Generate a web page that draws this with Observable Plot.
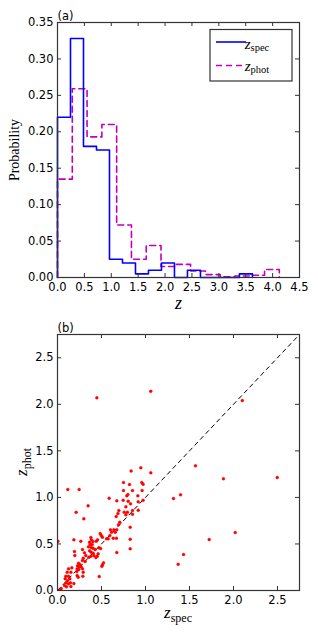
<!DOCTYPE html>
<html><head><meta charset="utf-8">
<script src="https://cdn.jsdelivr.net/npm/d3@7"></script>
<script src="https://cdn.jsdelivr.net/npm/@observablehq/plot@0.6"></script>
<style>
body{margin:0;background:#fff;}
#chart{width:318px;height:636px;}
#chart svg{display:block;}
</style></head>
<body><div id="chart"></div>
<script>
// ---- Panel (a): histograms ----
const specEdges = [0, 0.2417, 0.4833, 0.725, 0.9667, 1.2083, 1.45, 1.6917, 1.9333, 2.175, 2.4167, 2.6583, 2.9, 3.1417, 3.3833, 3.625];
const specProb  = [0.22, 0.328, 0.18, 0.175, 0.025, 0.02, 0.005, 0.01, 0.02, 0, 0.01, 0, 0, 0, 0.005];
const photEdges = [0, 0.275, 0.55, 0.825, 1.1, 1.375, 1.65, 1.925, 2.2, 2.475, 2.75, 3.025, 3.3, 3.575, 3.85, 4.125];
const photProb  = [0.135, 0.259, 0.193, 0.21, 0.072, 0.025, 0.044, 0.015, 0.018, 0.009, 0.004, 0.001, 0.002, 0.003, 0.011];
const histXTicks = [0, 0.5, 1, 1.5, 2, 2.5, 3, 3.5, 4, 4.5];
const histYTicks = [0, 0.05, 0.1, 0.15, 0.2, 0.25, 0.3, 0.35];

// ---- Panel (b): scatter ----
const zSpec = [0.447,1.06,2.10,0.837,0.947,1.06,1.568,1.886,2.497,1.318,1.398,1.432,1.371,1.724,2.019,
 0.117,0.246,0.348,0.587,0.674,0.75,0.818,0.75,0.852,0.8,0.788,0.958,0.973,0.962,0.913,0.746,0.803,0.83,0.777,0.917,0.973,0.697,0.852,0.917,
 0.212,0.299,0.687,0.667,0.758,0.795,0.777,0.852,0.708,0.693,0.602,0.614,0.595,0.674,0.656,0.64,0.826,0.826,0.826,0.576,0.557,0.633,0.67,0.674,0.485,0.497,0.511,0.455,0.44,
 0.379,0.386,0.402,0.364,0.371,0.394,0.352,0.383,0.405,0.428,0.364,0.383,0.405,0.356,0.379,0.413,0.451,0.436,0.462,0.47,0.49,
 0.265,0.186,0.284,0.193,0.197,0.307,0.322,0.292,0.284,0.314,0.239,0.258,0.227,0.246,0.269,0.223,0.242,0.22,0.284,0.292,0.223,0.235,0.288,0.186,0.163,0.152,0.125,0.11,0.095,0.125,0.14,0.087,0.114,0.098,0.125,0.148,0.08,0.102,0.152,0.042,0.034,
 0.511,0.523,0.504,0.474,0.005];
const zPhot = [2.07,2.14,2.04,1.285,1.318,1.264,1.339,1.2,1.214,0.988,1.028,0.387,0.283,0.548,0.623,
 1.085,1.085,0.91,0.992,0.963,1.16,1.139,1.074,1.074,1.031,1.017,1.16,1.142,1.074,1.017,0.97,0.96,0.931,0.899,0.953,0.97,0.859,0.859,0.862,
 0.841,0.77,0.827,0.795,0.841,0.841,0.813,0.82,0.734,0.706,0.652,0.626,0.59,0.652,0.626,0.652,0.68,0.551,0.448,0.555,0.555,0.562,0.562,0.408,0.612,0.59,0.573,0.544,0.53,
 0.569,0.544,0.526,0.519,0.494,0.494,0.469,0.462,0.454,0.44,0.426,0.411,0.401,0.358,0.368,0.376,0.368,0.354,0.394,0.46,0.45,
 0.53,0.544,0.44,0.419,0.376,0.405,0.376,0.347,0.322,0.311,0.294,0.276,0.265,0.254,0.254,0.233,0.226,0.204,0.233,0.197,0.161,0.143,0.154,0.075,0.244,0.197,0.233,0.197,0.154,0.154,0.126,0.126,0.107,0.082,0.072,0.082,0.054,0.04,0.043,0.021,0.014,
 0.276,0.297,0.261,0.15,0.53];
const scatterTicks = [0, 0.5, 1, 1.5, 2, 2.5];
const diagRange = [0, 2.75];

function stepPath(edges, probs) {
  const pts = [{x: edges[0], y: 0}];
  probs.forEach((p, i) => { pts.push({x: edges[i], y: p}); pts.push({x: edges[i + 1], y: p}); });
  pts.push({x: edges[edges.length - 1], y: 0});
  return pts;
}

const FRAME = "#333";
const font = {fontFamily: "DejaVu Sans", fontSize: "11.5px", color: "black", background: "white", overflow: "visible"};

// Panel (a)
const W = 318, H1 = 315, mT1 = 22, mB1 = 38, mL = 57, mR = 19;
const ih1 = H1 - mT1 - mB1, iw = W - mL - mR;
const p1 = Plot.plot({
  width: W, height: H1, marginTop: mT1, marginBottom: mB1, marginLeft: mL, marginRight: mR,
  x: {domain: [0, 4.5]}, y: {domain: [0, 0.35]},
  style: font,
  marks: [
    Plot.line(stepPath(photEdges, photProb), {x: "x", y: "y", stroke: "#bf00bf", strokeWidth: 1.6, strokeDasharray: "6,4"}),
    Plot.line(stepPath(specEdges, specProb), {x: "x", y: "y", stroke: "#0000ff", strokeWidth: 1.6}),
    Plot.tickX(histXTicks, {x: d => d, insetTop: ih1 - 4, stroke: FRAME}),
    Plot.tickX(histXTicks, {x: d => d, insetBottom: ih1 - 4, stroke: FRAME}),
    Plot.tickY(histYTicks, {y: d => d, insetRight: iw - 4, stroke: FRAME}),
    Plot.tickY(histYTicks, {y: d => d, insetLeft: iw - 4, stroke: FRAME}),
    Plot.frame({stroke: FRAME, strokeWidth: 1.2}),
    Plot.axisX(histXTicks, {tickSize: 0, tickPadding: 5, tickFormat: d3.format(".1f"), label: null}),
    Plot.axisY(histYTicks, {tickSize: 0, tickPadding: 4, tickFormat: d3.format(".2f"), label: null}),
    Plot.text(["(a)"], {frameAnchor: "top-left", textAnchor: "start", dy: -3, lineAnchor: "bottom", fontSize: 11.5}),
    Plot.text(["z"], {frameAnchor: "bottom", dy: 31, fontFamily: "Liberation Serif", fontStyle: "italic", fontSize: 18}),
    Plot.text(["Probability"], {frameAnchor: "left", dx: -43, rotate: -90, textAnchor: "middle", fontFamily: "Liberation Serif", fontSize: 14})
  ]
});

// legend for panel (a)
{
  const s = d3.select(p1);
  const g = s.append("g");
  g.append("rect").attr("x", 210).attr("y", 29.5).attr("width", 82).attr("height", 51.5)
    .attr("fill", "white").attr("stroke", FRAME).attr("stroke-width", 1.2);
  g.append("line").attr("x1", 216).attr("x2", 246).attr("y1", 42).attr("y2", 42)
    .attr("stroke", "#0000ff").attr("stroke-width", 1.6);
  g.append("line").attr("x1", 216).attr("x2", 246).attr("y1", 65.5).attr("y2", 65.5)
    .attr("stroke", "#bf00bf").attr("stroke-width", 1.6).attr("stroke-dasharray", "6,4");
  const t1 = g.append("text").attr("x", 257).attr("y", 48.5).attr("font-family", "Liberation Serif");
  t1.append("tspan").attr("font-style", "italic").attr("font-size", 15).text("z");
  t1.append("tspan").attr("font-size", 10.5).attr("dy", 2.5).text("spec");
  const t2 = g.append("text").attr("x", 257).attr("y", 70.5).attr("font-family", "Liberation Serif");
  t2.append("tspan").attr("font-style", "italic").attr("font-size", 15).text("z");
  t2.append("tspan").attr("font-size", 10.5).attr("dy", 2.5).text("phot");
}

// Panel (b)
const H2 = 321, mT2 = 19, mB2 = 46;
const ih2 = H2 - mT2 - mB2;
const pts = zSpec.map((x, i) => ({x, y: zPhot[i]}));
const p2 = Plot.plot({
  width: W, height: H2, marginTop: mT2, marginBottom: mB2, marginLeft: mL, marginRight: mR,
  x: {domain: [0, 2.75]}, y: {domain: [0, 2.75]},
  style: font,
  marks: [
    Plot.line(diagRange, {x: d => d, y: d => d, stroke: "black", strokeWidth: 1, strokeDasharray: "4,4"}),
    Plot.dot(pts, {x: "x", y: "y", r: 1.5, fill: "#ff0000", stroke: "#ff0000", strokeWidth: 0.3, clip: true}),
    Plot.tickX(scatterTicks, {x: d => d, insetTop: ih2 - 4, stroke: FRAME}),
    Plot.tickX(scatterTicks, {x: d => d, insetBottom: ih2 - 4, stroke: FRAME}),
    Plot.tickY(scatterTicks, {y: d => d, insetRight: iw - 4, stroke: FRAME}),
    Plot.tickY(scatterTicks, {y: d => d, insetLeft: iw - 4, stroke: FRAME}),
    Plot.frame({stroke: FRAME, strokeWidth: 1.2}),
    Plot.axisX(scatterTicks, {tickSize: 0, tickPadding: 5, tickFormat: d3.format(".1f"), label: null}),
    Plot.axisY(scatterTicks, {tickSize: 0, tickPadding: 4, tickFormat: d3.format(".1f"), label: null}),
    Plot.text(["(b)"], {frameAnchor: "top-left", textAnchor: "start", dy: -3, lineAnchor: "bottom", fontSize: 11.5})
  ]
});
{
  const s = d3.select(p2);
  const tx = s.append("text").attr("x", 178).attr("y", 303).attr("text-anchor", "middle").attr("font-family", "Liberation Serif");
  tx.append("tspan").attr("font-style", "italic").attr("font-size", 17).text("z");
  tx.append("tspan").attr("font-size", 12).attr("dy", 3.5).text("spec");
  const ty = s.append("text").attr("transform", "translate(27,147) rotate(-90)").attr("text-anchor", "middle").attr("font-family", "Liberation Serif");
  ty.append("tspan").attr("font-style", "italic").attr("font-size", 17).text("z");
  ty.append("tspan").attr("font-size", 12).attr("dy", 3.5).text("phot");
}

document.getElementById("chart").append(p1, p2);
</script>
</body></html>
